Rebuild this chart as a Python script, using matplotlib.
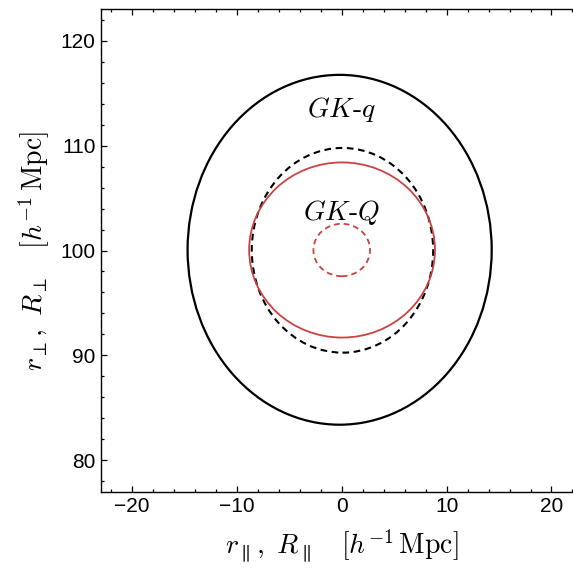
import matplotlib
matplotlib.use("Agg")
import matplotlib.pyplot as plt
from matplotlib.patches import Ellipse
from matplotlib.ticker import MultipleLocator

plt.rcParams['mathtext.fontset'] = 'cm'

# ellipses: (center_x, center_y, half width, half height)
curve_names = ['GK-q outer', 'GK-q inner', 'GK-Q outer', 'GK-Q inner']
centers_x = [-0.2, 0.07, 0.03, 0.0]
centers_y = [100.07, 100.02, 100.05, 100.05]
half_widths = [14.5, 8.65, 8.86, 2.7]
half_heights = [16.68, 9.76, 8.35, 2.5]

labels = [r'$GK$-$q$', r'$GK$-$Q$']
label_x = [0.0, 0.0]
label_y = [113.4, 103.6]

xlim = (-23, 23)
ylim = (77, 123)

red = '#cc4242'
styles = [
    dict(color='black', lw=1.6, ls='-'),
    dict(color='black', lw=1.5, ls=(0, (3.2, 2.2))),
    dict(color=red, lw=1.3, ls='-'),
    dict(color=red, lw=1.3, ls=(0, (3.2, 2.2))),
]

fig = plt.figure(figsize=(5.73, 5.68), dpi=100)
ax = fig.add_axes([0.175, 0.1343, 0.8428, 0.8493])

for cx, cy, hw, hh, st in zip(centers_x, centers_y, half_widths,
                              half_heights, styles):
    ax.add_patch(Ellipse((cx, cy), 2 * hw, 2 * hh, fill=False, **st))

for t, x, y in zip(labels, label_x, label_y):
    ax.text(x, y, t, fontsize=20, family='cmr10', ha='center', va='center')

ax.set_xlim(*xlim)
ax.set_ylim(*ylim)
ax.set_aspect('equal')

ax.xaxis.set_major_locator(MultipleLocator(10))
ax.xaxis.set_minor_locator(MultipleLocator(2))
ax.yaxis.set_major_locator(MultipleLocator(10))
ax.yaxis.set_minor_locator(MultipleLocator(2))
ax.tick_params(which='both', direction='in', top=True, right=False,
               labelsize=15, pad=3.5, width=0.9)
ax.tick_params(which='major', length=4.5)
ax.tick_params(which='minor', length=2.3)
for lab in ax.get_xticklabels() + ax.get_yticklabels():
    lab.set_family('Liberation Sans')
for s in ax.spines.values():
    s.set_linewidth(1.0)
ax.spines['right'].set_visible(False)

ax.set_xlabel(r'$r_\parallel,\ R_\parallel\quad[h^{-1}\,\mathrm{Mpc}]$',
              fontsize=20, labelpad=9)
ax.set_ylabel(r'$r_\perp,\ R_\perp\quad[h^{-1}\,\mathrm{Mpc}]$',
              fontsize=20, labelpad=6)

fig.savefig('out.png', dpi=100)
